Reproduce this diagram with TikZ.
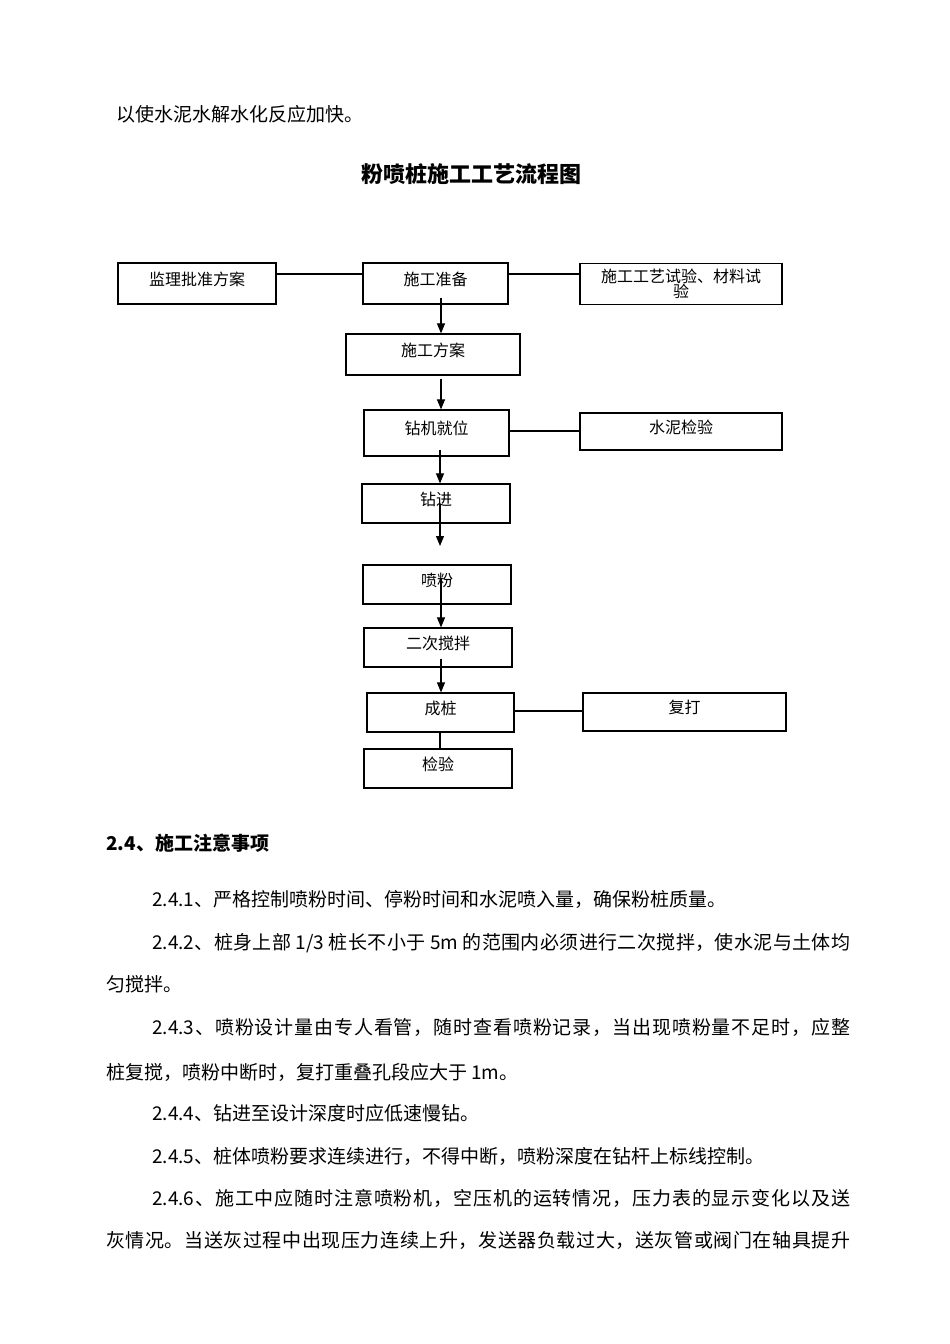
\documentclass[tikz,border=0pt]{standalone}
\usepackage{fontspec}
\setmainfont{Noto Sans CJK SC}
\usetikzlibrary{arrows.meta}
\chardef\cjkcls=7
\makeatletter
\count@="3000
\loop\ifnum\count@<"A000 \XeTeXcharclass\count@=\cjkcls \advance\count@ 1 \repeat
\count@="FF00
\loop\ifnum\count@<"FF60 \XeTeXcharclass\count@=\cjkcls \advance\count@ 1 \repeat
\makeatother
\XeTeXinterchartoks\cjkcls\cjkcls={\hskip0pt plus 3pt\relax}
\XeTeXinterchartoks 0 \cjkcls={\hskip0pt plus 3pt\relax}
\XeTeXinterchartoks\cjkcls 0={\hskip0pt plus 3pt\relax}
\newcommand\justline[2]{{\XeTeXinterchartokenstate=1 \makebox[#1][s]{#2}}}
\begin{document}
\begin{tikzpicture}[x=1pt,y=-1pt,
  box/.style={draw, line width=1.2pt, inner sep=0pt, font=\fontsize{16}{18}\selectfont, text height=9pt, text depth=6pt},
  boxml/.style={draw, line width=1.2pt, inner sep=0pt, align=center, font=\fontsize{16}{15}\selectfont},
  link/.style={line width=1.1pt},
  arr/.style={line width=1.1pt, -{Triangle[width=8pt,length=10pt]}},
  body/.style={anchor=base west, inner sep=0pt, font=\fontsize{19}{23}\selectfont},
]
\useasboundingbox[fill=white] (0,0) rectangle (950,1344);

% heading texts
\node[body] (t0) at (116,121) {以使水泥水解水化反应加快。};
\node[anchor=base, inner sep=0pt, font=\fontsize{22}{26}\selectfont\bfseries] (title) at (471,182) {粉喷桩施工工艺流程图};

% boxes
\node[box, minimum width=158, minimum height=41] (jl) at (197,283.5) {监理批准方案};
\node[box, minimum width=145, minimum height=41] (zb) at (435.5,283.5) {施工准备};
\node[boxml, minimum width=202, minimum height=41] (sy) at (681,284) {施工工艺试验、材料试\\验};
\node[box, minimum width=174, minimum height=41] (fa) at (433,354.5) {施工方案};
\node[box, minimum width=145, minimum height=46] (jw) at (436.5,433) {钻机就位};
\node[box, minimum width=202, minimum height=37] (sn) at (681,431.5) {水泥检验};
\node[box, minimum width=148, minimum height=39] (zj) at (436,503.5) {钻进};
\node[box, minimum width=148, minimum height=39] (pf) at (437,584.5) {喷粉};
\node[box, minimum width=148, minimum height=39] (jb) at (438,647.5) {二次搅拌};
\node[box, minimum width=147, minimum height=39] (cz) at (440.5,712.5) {成桩};
\node[box, minimum width=203, minimum height=38] (fd) at (684.5,712) {复打};
\node[box, minimum width=148, minimum height=39] (jy) at (438,768.5) {检验};

% helper coordinates
\coordinate (ya) at (0,274);
\coordinate (yb) at (0,431);
\coordinate (yc) at (0,711);
\coordinate (xa) at (441,0);
\coordinate (xb) at (440,0);
\coordinate (free) at (440,546);

% plain links
\draw[link] (jl.east |- ya) -- (zb.west |- ya);
\draw[link] (zb.east |- ya) -- (sy.west |- ya);
\draw[link] (jw.east |- yb) -- (sn.west |- yb);
\draw[link] (cz.east |- yc) -- (fd.west |- yc);
\draw[link] (cz.south -| xb) -- (jy.north -| xb);

% arrows
\draw[arr] ([yshift=7pt]zb.south -| xa) -- (fa.north -| xa);
\draw[arr] ([yshift=-3pt]fa.south -| xa) -- (jw.north -| xa);
\draw[arr] ([yshift=7pt]jw.south -| xb) -- (zj.north -| xb);
\draw[arr] ([yshift=20pt]zj.south -| xb) -- (free);
\draw[arr] ([yshift=27pt]pf.south -| xa) -- (jb.north -| xa);
\draw[arr] ([yshift=9pt]jb.south -| xa) -- (cz.north -| xa);

% section text
\node[body, font=\fontsize{19}{23}\selectfont\bfseries] (h24) at (106,850) {2.4、施工注意事项};
\node[body] (p1) at (152,906) {2.4.1、严格控制喷粉时间、停粉时间和水泥喷入量，确保粉桩质量。};
\node[body] (p2) at (152,949) {\justline{698pt}{2.4.2、桩身上部 1/3 桩长不小于 5m 的范围内必须进行二次搅拌，使水泥与土体均}};
\node[body] (p2b) at (106,991) {匀搅拌。};
\node[body] (p3) at (152,1034) {\justline{698pt}{2.4.3、喷粉设计量由专人看管，随时查看喷粉记录，当出现喷粉量不足时，应整}};
\node[body] (p3b) at (106,1079) {桩复搅，喷粉中断时，复打重叠孔段应大于 1m。};
\node[body] (p4) at (152,1120) {2.4.4、钻进至设计深度时应低速慢钻。};
\node[body] (p5) at (152,1163) {2.4.5、桩体喷粉要求连续进行，不得中断，喷粉深度在钻杆上标线控制。};
\node[body] (p6) at (152,1205) {\justline{698pt}{2.4.6、施工中应随时注意喷粉机，空压机的运转情况，压力表的显示变化以及送}};
\node[body] (p6b) at (106,1247) {\justline{744pt}{灰情况。当送灰过程中出现压力连续上升，发送器负载过大，送灰管或阀门在轴具提升}};
\end{tikzpicture}
\end{document}
